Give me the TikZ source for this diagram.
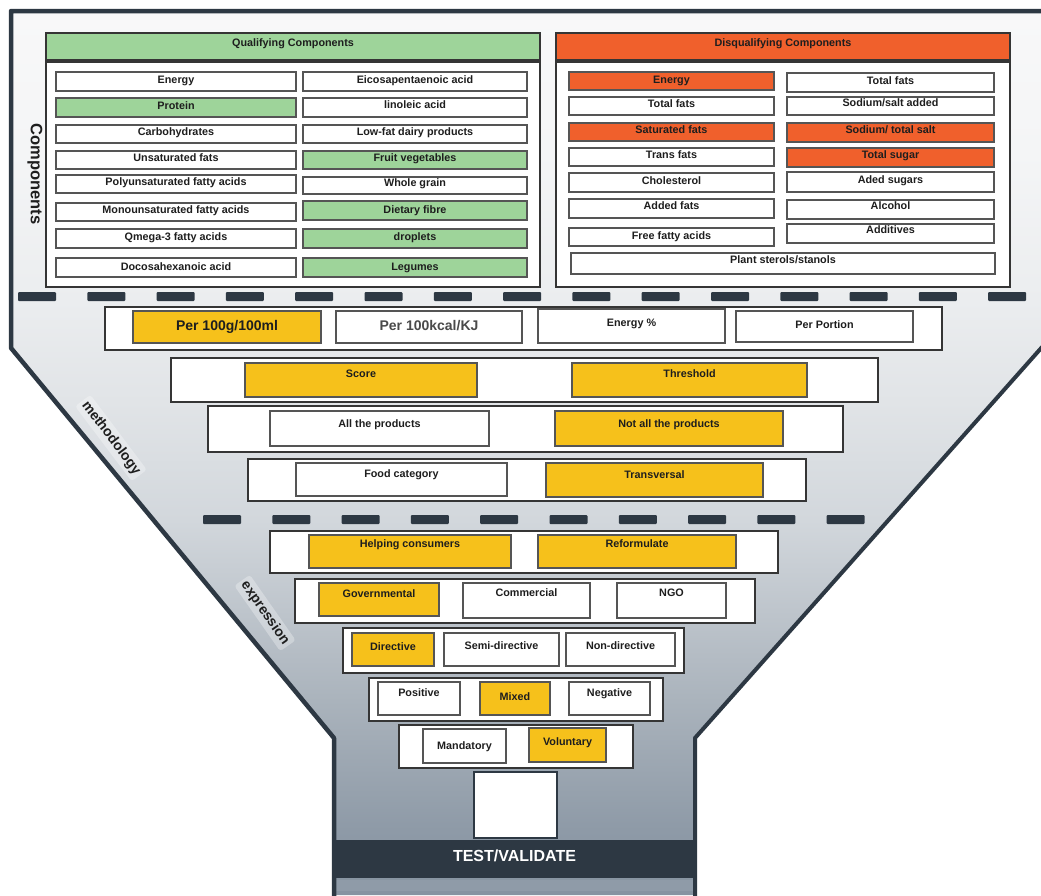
\documentclass[tikz,border=0pt]{standalone}
\usepackage{fontspec}
\setmainfont{Liberation Sans}
\definecolor{qgreen}{HTML}{9ED49A}
\definecolor{dorange}{HTML}{F0602C}
\definecolor{yel}{HTML}{F6C11B}
\definecolor{darkc}{HTML}{2D3843}
\definecolor{boxln}{HTML}{555555}
\definecolor{frameln}{HTML}{353535}
\definecolor{txtc}{HTML}{1E1E1E}
\definecolor{graytxt}{HTML}{4A4A4A}
\definecolor{fa}{HTML}{8693A1}
\definecolor{fb}{HTML}{8E9AA7}
\definecolor{fc}{HTML}{AAB3BC}
\definecolor{fd}{HTML}{D2D7DC}
\definecolor{fe}{HTML}{E1E4E7}
\definecolor{ff}{HTML}{EBEDEF}
\definecolor{fg}{HTML}{F4F5F6}
\definecolor{fh}{HTML}{F8F8F9}
\definecolor{stripc}{HTML}{8F9BA8}
\pgfdeclareverticalshading{funnelshade}{100bp}{color(0bp)=(fa); color(25bp)=(fa); color(28.7bp)=(fb); color(36bp)=(fc); color(46.2bp)=(fd); color(52.9bp)=(fe); color(58.6bp)=(ff); color(67bp)=(fg); color(75bp)=(fh); color(100bp)=(fh)}
\newcommand\cb[8]{%
  \node[#1, minimum width=#4pt-#2pt, minimum height=#5pt-#3pt] (#7) at ({(#2+#4)/2},{(#3+#5)/2}) {};
  \node[txt] (#7t) at ({(#2+#4)/2},#8) {#6};}
\newcommand\bcb[9]{%
  \node[#1, minimum width=#4pt-#2pt, minimum height=#5pt-#3pt] (#7) at ({(#2+#4)/2},{(#3+#5)/2}) {};
  \node[bigtxt,text=#9] (#7t) at ({(#2+#4)/2},#8) {#6};}
\newcommand\fr[6]{%
  \node[#1, minimum width=#4pt-#2pt, minimum height=#5pt-#3pt] (#6) at ({(#2+#4)/2},{(#3+#5)/2}) {};}
\begin{document}
\begin{tikzpicture}[x=1pt,y=-1pt,
  wb/.style={draw=boxln,line width=1.3pt,fill=white,inner sep=0,outer sep=0},
  gb/.style={wb,fill=qgreen},
  ob/.style={wb,fill=dorange},
  yb/.style={wb,fill=yel},
  rowfr/.style={draw=frameln,line width=2pt,fill=white,inner sep=0,outer sep=0},
  txt/.style={font=\fontsize{10.8}{12}\selectfont\bfseries,text=txtc,inner sep=0,text height=7.8pt,text depth=2.3pt,yshift=-2pt},
  bigtxt/.style={font=\fontsize{14}{16}\selectfont\bfseries,inner sep=0,text height=10pt,text depth=3pt},
  dashbar/.style={fill=darkc,rounded corners=1pt},
  sidelbl/.style={font=\fontsize{14}{16}\selectfont\bfseries,text=txtc,fill=white,fill opacity=0.3,text opacity=1,rounded corners=3pt,inner sep=3pt}
]
\useasboundingbox (0,0) rectangle (1041,895);
% funnel body
\shade[shading=funnelshade] (11,11) -- (1041,11) -- (1041,348) -- (695,738) -- (695,895) -- (334,895) -- (334,738) -- (11,348) -- cycle;
% bottom band
\fr{fill=darkc,inner sep=0}{334}{840}{695}{878}{band}
\fr{fill=stripc,inner sep=0}{336}{880}{693}{891}{strip}
\node[font=\fontsize{16}{18}\selectfont\bfseries,text=white] (tv) at (band.center) [yshift=3pt] {TEST/VALIDATE};
% outline
\draw[darkc,line width=4.5pt,line join=round] (1045,11) -- (11,11) -- (11,348) -- (334,738) -- (334,897);
\draw[darkc,line width=4pt,line join=round] (1043,346) -- (695,738) -- (695,897);
% dashes
\foreach \i in {0,...,14} \path[dashbar] ({18+69.3*\i},292) rectangle ++(38,9);
\foreach \i in {0,...,9} \path[dashbar] ({203+69.3*\i},515) rectangle ++(38,9);
% side labels
\node[font=\fontsize{16.5}{18}\selectfont\bfseries,text=txtc,rotate=-90] (comp) at (35,174) {Components};
\node[sidelbl,rotate=-53] (meth) at (111,438) {methodology};
\node[sidelbl,rotate=-55] (expr) at (265,613) {expression};
% qualifying
\fr{rowfr}{46}{62}{540}{287}{qc}
\cb{gb,draw=frameln,line width=1.8pt}{46}{33}{540}{60}{Qualifying Components}{qh}{42}
\cb{wb}{56}{72}{296}{91}{Energy}{q1}{79}
\cb{gb}{56}{98}{296}{117}{Protein}{q2}{105}
\cb{wb}{56}{125}{296}{143}{Carbohydrates}{q3}{131}
\cb{wb}{56}{151}{296}{169}{Unsaturated fats}{q4}{157}
\cb{wb}{56}{175}{296}{193}{Polyunsaturated fatty acids}{q5}{181}
\cb{wb}{56}{203}{296}{221}{Monounsaturated fatty acids}{q6}{209}
\cb{wb}{56}{229}{296}{248}{Qmega-3 fatty acids}{q7}{236}
\cb{wb}{56}{258}{296}{277}{Docosahexanoic acid}{q8}{266}
\cb{wb}{303}{72}{527}{91}{Eicosapentaenoic acid}{r1}{79}
\cb{wb}{303}{98}{527}{117}{linoleic acid}{r2}{104}
\cb{wb}{303}{125}{527}{143}{Low-fat dairy products}{r3}{131}
\cb{gb}{303}{151}{527}{169}{Fruit vegetables}{r4}{157}
\cb{wb}{303}{177}{527}{194}{Whole grain}{r5}{182}
\cb{gb}{303}{201}{527}{220}{Dietary fibre}{r6}{209}
\cb{gb}{303}{229}{527}{248}{droplets}{r7}{236}
\cb{gb}{303}{258}{527}{277}{Legumes}{r8}{266}
% disqualifying
\fr{rowfr}{556}{62}{1010}{287}{dc}
\cb{ob,draw=frameln,line width=1.8pt}{556}{33}{1010}{60}{Disqualifying Components}{dh}{42}
\cb{ob}{569}{72}{774}{90}{Energy}{d1}{79}
\cb{wb}{569}{97}{774}{115}{Total fats}{d2}{103}
\cb{ob}{569}{123}{774}{141}{Saturated fats}{d3}{129}
\cb{wb}{569}{148}{774}{166}{Trans fats}{d4}{154}
\cb{wb}{569}{173}{774}{192}{Cholesterol}{d5}{180}
\cb{wb}{569}{199}{774}{218}{Added fats}{d6}{205}
\cb{wb}{569}{228}{774}{246}{Free fatty acids}{d7}{235}
\cb{wb}{787}{73}{994}{92}{Total fats}{e1}{80}
\cb{wb}{787}{97}{994}{115}{Sodium/salt added}{e2}{102}
\cb{ob}{787}{123}{994}{142}{Sodium/ total salt}{e3}{129}
\cb{ob}{787}{148}{994}{167}{Total sugar}{e4}{154}
\cb{wb}{787}{172}{994}{192}{Aded sugars}{e5}{179}
\cb{wb}{787}{200}{994}{219}{Alcohol}{e6}{205}
\cb{wb}{787}{224}{994}{243}{Additives}{e7}{229}
\cb{wb}{571}{253}{995}{274}{Plant sterols/stanols}{pl}{259}
% methodology rows
\fr{rowfr}{105}{307}{942}{350}{rowA}
\bcb{yb}{133}{311}{321}{343}{Per 100g/100ml}{a1}{327}{txtc}
\bcb{wb}{336}{311}{522}{343}{Per 100kcal/KJ}{a2}{327}{graytxt}
\cb{wb}{538}{309}{725}{343}{Energy \%}{a3}{322}
\cb{wb}{736}{311}{913}{342}{Per Portion}{a4}{324}
\fr{rowfr}{171}{358}{878}{402}{rowB}
\cb{yb}{245}{363}{477}{397}{Score}{b1}{373}
\cb{yb}{572}{363}{807}{397}{Threshold}{b2}{373}
\fr{rowfr}{208}{406}{843}{452}{rowC}
\cb{wb}{270}{411}{489}{446}{All the products}{c1}{423}
\cb{yb}{555}{411}{783}{446}{Not all the products}{c2}{423}
\fr{rowfr}{248}{459}{806}{501}{rowD}
\cb{wb}{296}{463}{507}{496}{Food category}{m1}{473}
\cb{yb}{546}{463}{763}{497}{Transversal}{m2}{474}
% expression rows
\fr{rowfr}{270}{531}{778}{573}{rowE}
\cb{yb}{309}{535}{511}{568}{Helping consumers}{x1}{543}
\cb{yb}{538}{535}{736}{568}{Reformulate}{x2}{543}
\fr{rowfr}{295}{579}{755}{623}{rowF}
\cb{yb}{319}{583}{439}{616}{Governmental}{f1}{593}
\cb{wb}{463}{583}{590}{618}{Commercial}{f2}{592}
\cb{wb}{617}{583}{726}{618}{NGO}{f3}{592}
\fr{rowfr}{343}{628}{684}{673}{rowG}
\cb{yb}{352}{633}{434}{666}{Directive}{g1}{646}
\cb{wb}{444}{633}{559}{666}{Semi-directive}{g2}{645}
\cb{wb}{566}{633}{675}{666}{Non-directive}{g3}{645}
\fr{rowfr}{369}{678}{663}{721}{rowH}
\cb{wb}{378}{682}{460}{715}{Positive}{h1}{692}
\cb{yb}{480}{682}{550}{715}{Mixed}{h2}{696}
\cb{wb}{569}{682}{650}{715}{Negative}{h3}{692}
\fr{rowfr}{399}{725}{633}{768}{rowI}
\cb{wb}{423}{729}{506}{763}{Mandatory}{i1}{745}
\cb{yb}{529}{728}{606}{762}{Voluntary}{i2}{741}
\fr{draw=darkc,line width=2pt,fill=white,inner sep=0}{474}{772}{557}{838}{sq}
\end{tikzpicture}
\end{document}
